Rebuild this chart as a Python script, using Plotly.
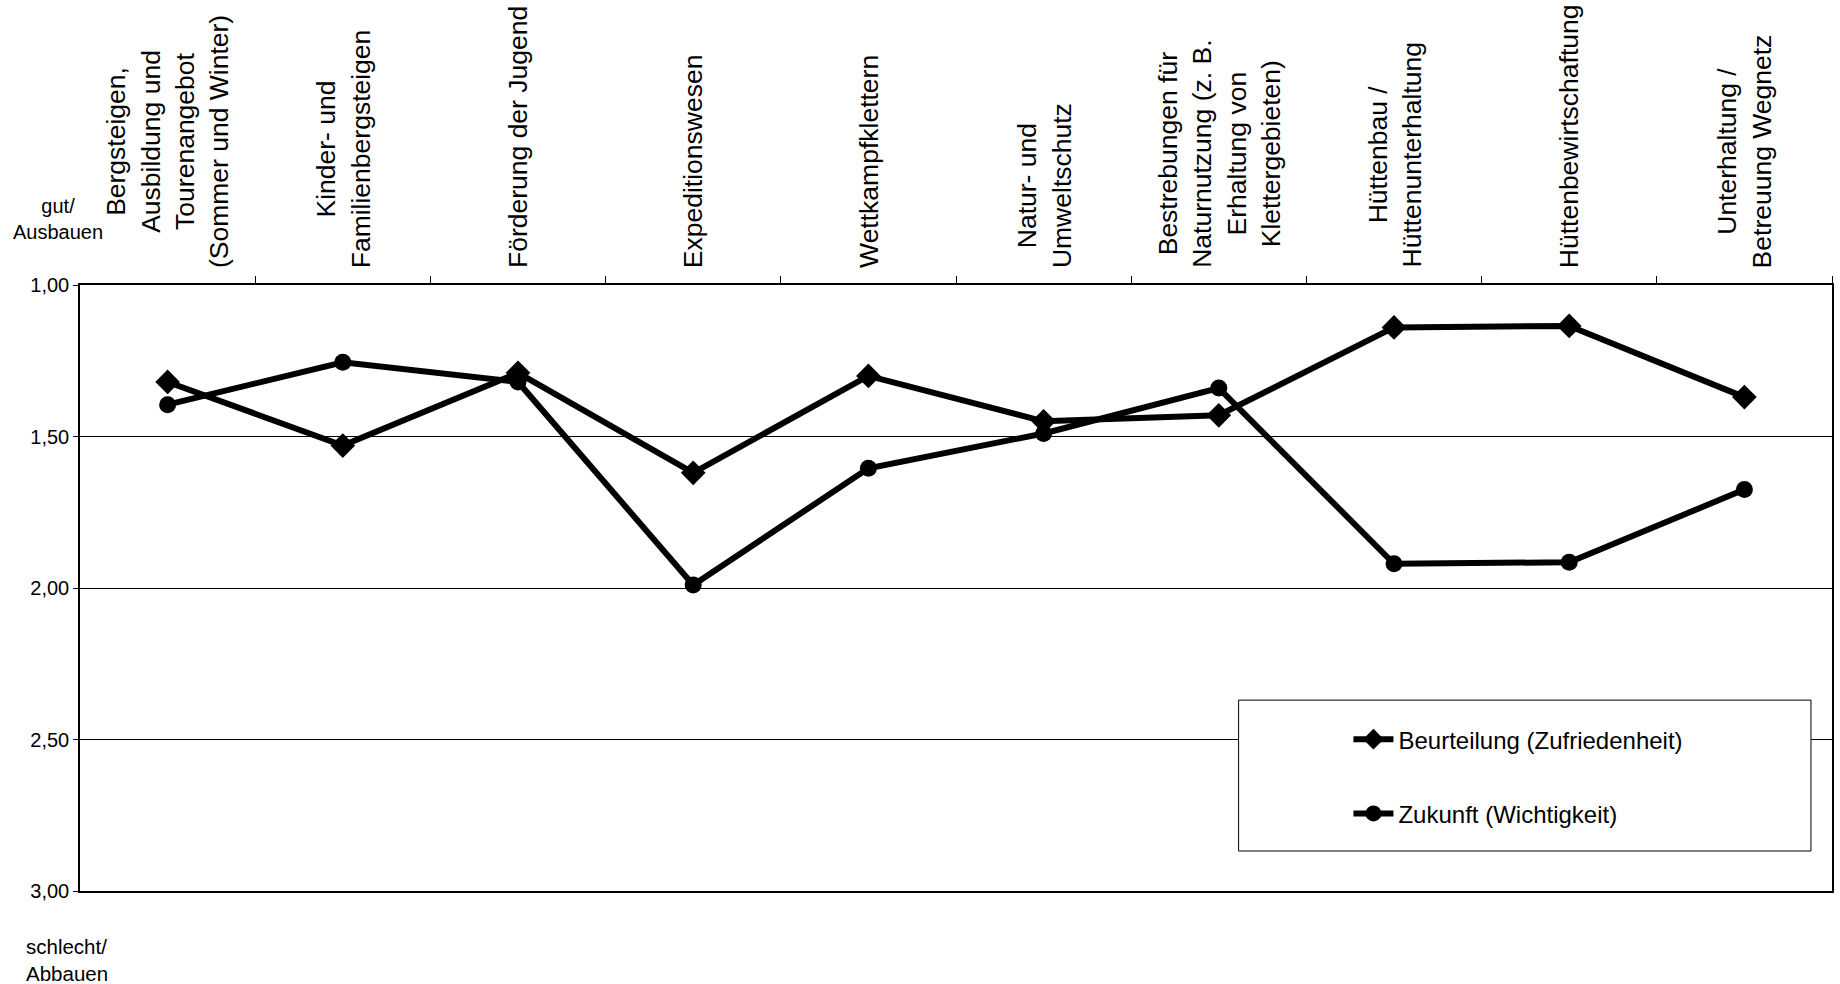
import plotly.graph_objects as go

categories = [
    "Bergsteigen,<br>Ausbildung und<br>Tourenangebot<br>(Sommer und Winter)",
    "Kinder- und<br>Familienbergsteigen",
    "Förderung der Jugend",
    "Expeditionswesen",
    "Wettkampfklettern",
    "Natur- und<br>Umweltschutz",
    "Bestrebungen für<br>Naturnutzung (z. B.<br>Erhaltung von<br>Klettergebieten)",
    "Hüttenbau /<br>Hüttenunterhaltung",
    "Hüttenbewirtschaftung",
    "Unterhaltung /<br>Betreuung Wegnetz",
]
beurteilung = [1.32, 1.53, 1.29, 1.62, 1.30, 1.45, 1.43, 1.14, 1.135, 1.37]
zukunft = [1.395, 1.255, 1.32, 1.99, 1.605, 1.49, 1.34, 1.92, 1.915, 1.675]
series_names = ["Beurteilung (Zufriedenheit)", "Zukunft (Wichtigkeit)"]
y_ticks = [1.0, 1.5, 2.0, 2.5, 3.0]

FONT = "Arial, Liberation Sans, sans-serif"
x_idx = list(range(len(categories)))

fig = go.Figure()
fig.add_trace(go.Scatter(
    x=x_idx, y=beurteilung, name=series_names[0], mode="lines+markers",
    line=dict(color="black", width=6),
    marker=dict(symbol="diamond", size=19, color="black"),
    legendgroup="a",
))
fig.add_trace(go.Scatter(
    x=x_idx, y=zukunft, name=series_names[1], mode="lines+markers",
    line=dict(color="black", width=6),
    marker=dict(symbol="circle", size=17, color="black"),
    legendgroup="b",
))

annotations = []
for i, c in enumerate(categories):
    annotations.append(dict(
        x=i, xref="x", y=1, yref="paper", yanchor="bottom", xanchor="center",
        yshift=15, text=c, textangle=-90, align="center", showarrow=False,
        font=dict(family=FONT, size=26.5, color="black"),
    ))
annotations.append(dict(
    x=-0.0125, xref="paper", y=1, yref="paper", xanchor="center", yanchor="bottom",
    yshift=40, text="gut/<br>Ausbauen", align="center", showarrow=False,
    font=dict(family=FONT, size=20, color="black"),
))
annotations.append(dict(
    x=-0.032, xref="paper", y=0, yref="paper", xanchor="left", yanchor="top",
    yshift=-42, text="schlecht/<br>Abbauen", align="left", showarrow=False,
    font=dict(family=FONT, size=20.5, color="black"),
))

fig.update_layout(
    width=1840, height=984,
    margin=dict(l=80, r=6, t=285, b=93),
    paper_bgcolor="white", plot_bgcolor="white",
    separators=",.",
    font=dict(family=FONT, color="black"),
    annotations=annotations,
    showlegend=True,
    legend=dict(
        x=0.724, y=0.287, xanchor="left", yanchor="top",
        bgcolor="rgba(0,0,0,0)", borderwidth=0,
        font=dict(family=FONT, size=24, color="black"),
        tracegroupgap=40, itemwidth=40,
    ),
    shapes=[dict(
        type="rect", xref="paper", yref="paper",
        x0=0.6613, x1=0.988, y0=0.066, y1=0.315,
        line=dict(color="black", width=1), fillcolor="white", layer="above",
    )],
)
fig.update_xaxes(
    type="linear", side="top", range=[-0.5, len(categories) - 0.5],
    tickmode="array", tickvals=[i + 0.5 for i in range(len(categories))],
    showticklabels=False, ticks="outside", ticklen=7, tickcolor="black",
    showline=True, linecolor="black", linewidth=1.5, mirror=True,
    showgrid=False, zeroline=False,
)
fig.update_yaxes(
    range=[3.0, 1.0], tickmode="array", tickvals=y_ticks, tickformat=".2f",
    ticks="outside", ticklen=5, tickcolor="black",
    tickfont=dict(family=FONT, size=20, color="black"),
    showline=True, linecolor="black", linewidth=1.5, mirror=True,
    showgrid=True, gridcolor="black", gridwidth=1, zeroline=False,
)
fig.write_html("out.html")
